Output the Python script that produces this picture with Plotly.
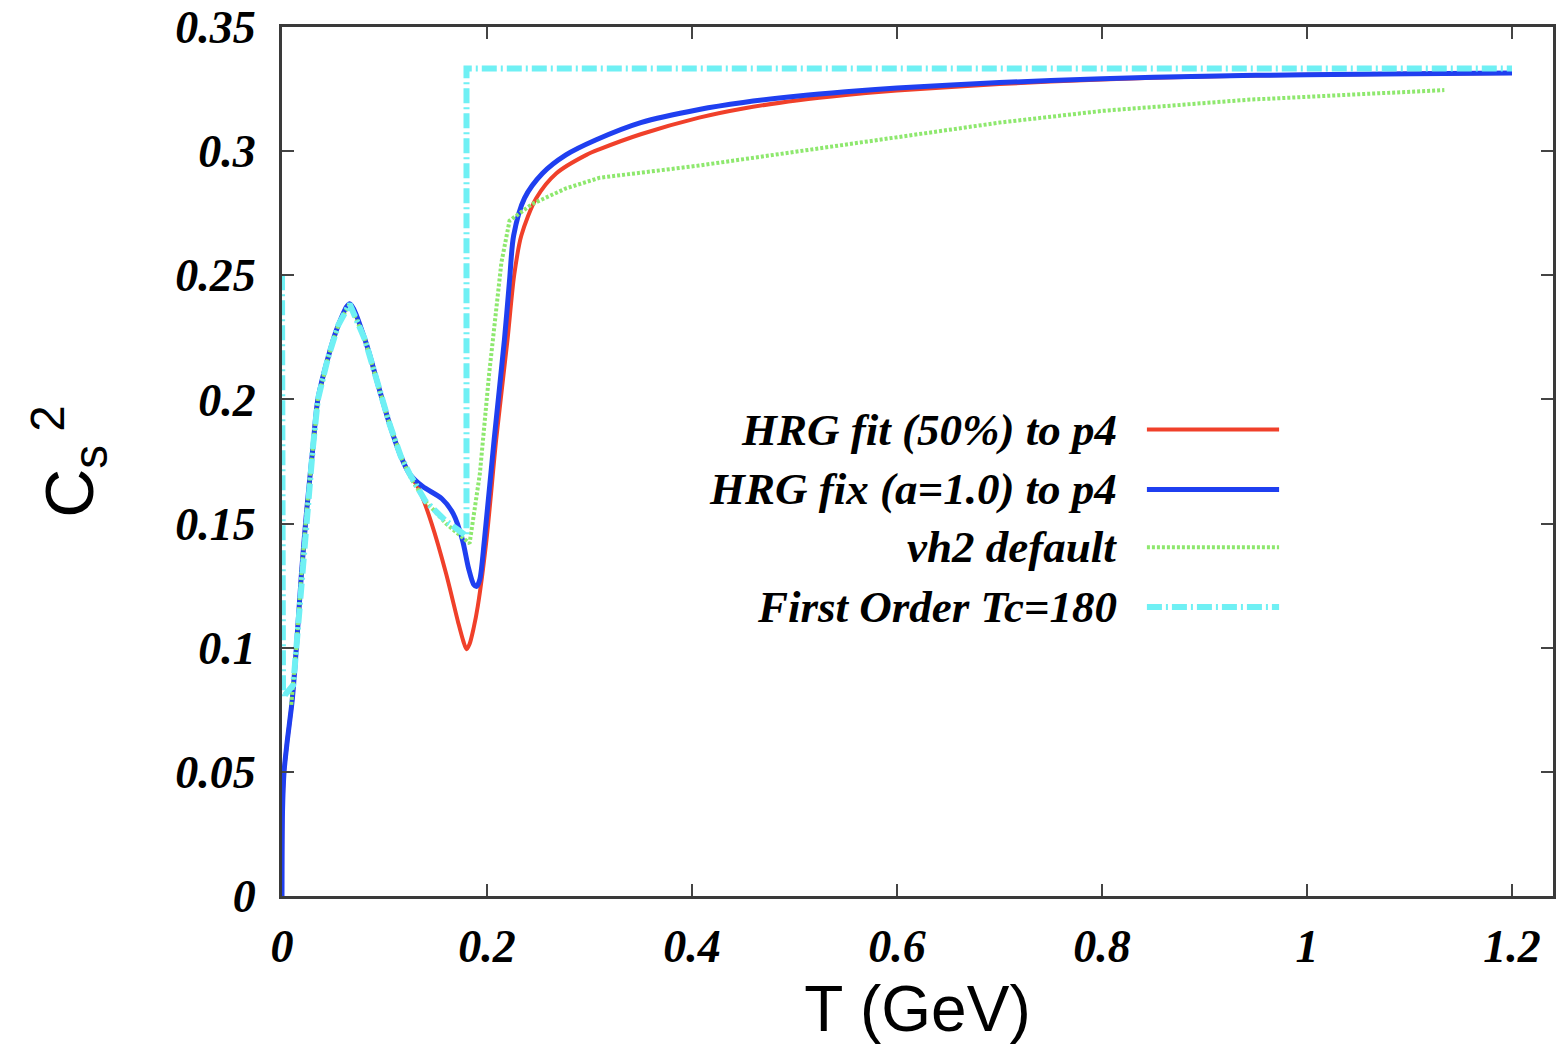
import plotly.graph_objects as go

# ---------------- data ----------------
T_red = [0, 0.0005, 0.002, 0.005, 0.01, 0.014, 0.019, 0.024, 0.03, 0.035, 0.045, 0.055, 0.066,
         0.081, 0.095, 0.105, 0.116, 0.1245, 0.134, 0.146, 0.16, 0.172, 0.177, 0.180, 0.183,
         0.187, 0.191, 0.1995, 0.209, 0.22, 0.2265, 0.2335, 0.248, 0.2675, 0.297, 0.31, 0.35,
         0.407, 0.45, 0.504, 0.55, 0.6, 0.7, 0.8, 0.9, 1.0, 1.1, 1.2]
cs2_red = [0, 0.034, 0.05, 0.062, 0.079, 0.10, 0.13, 0.155, 0.18, 0.2, 0.217, 0.23, 0.2385,
           0.224, 0.204, 0.19, 0.177, 0.170, 0.1636, 0.150, 0.130, 0.110, 0.1025, 0.0994, 0.1015,
           0.108, 0.1167, 0.1435, 0.184, 0.224, 0.25, 0.266, 0.281, 0.291, 0.2985, 0.3008,
           0.3068, 0.3135, 0.3172, 0.3205, 0.3226, 0.3244, 0.327, 0.3289, 0.3301, 0.3308,
           0.3312, 0.3315]

T_blue = [0, 0.0005, 0.002, 0.005, 0.01, 0.014, 0.019, 0.024, 0.03, 0.035, 0.045, 0.055, 0.066,
          0.081, 0.095, 0.105, 0.116, 0.1245, 0.137, 0.156, 0.167, 0.176, 0.182, 0.187, 0.19,
          0.193, 0.1975, 0.207, 0.217, 0.222, 0.226, 0.2365, 0.254, 0.277, 0.306, 0.35, 0.407,
          0.45, 0.504, 0.55, 0.6, 0.7, 0.8, 0.9, 1.0, 1.1, 1.2]
cs2_blue = [0, 0.034, 0.05, 0.062, 0.079, 0.10, 0.13, 0.155, 0.18, 0.2, 0.217, 0.23, 0.2385,
            0.224, 0.204, 0.19, 0.177, 0.170, 0.165, 0.160, 0.154, 0.1435, 0.132, 0.1255,
            0.1247, 0.1275, 0.1435, 0.184, 0.224, 0.248, 0.266, 0.281, 0.291, 0.2985, 0.3045,
            0.3115, 0.3168, 0.3196, 0.3222, 0.3239, 0.3254, 0.3276, 0.3292, 0.3302, 0.3308,
            0.3312, 0.3315]

T_green = [0.009, 0.011, 0.014, 0.019, 0.024, 0.03, 0.035, 0.045, 0.055, 0.066, 0.081, 0.095,
           0.105, 0.116, 0.126, 0.14, 0.16, 0.183, 0.193, 0.202, 0.214, 0.222, 0.244, 0.277,
           0.31, 0.407, 0.504, 0.6, 0.7, 0.8, 0.942, 1.134]
cs2_green = [0.077, 0.085, 0.10, 0.13, 0.155, 0.18, 0.2, 0.217, 0.23, 0.2385, 0.224, 0.204,
             0.19, 0.177, 0.168, 0.159, 0.150, 0.142, 0.170, 0.21, 0.255, 0.272, 0.2787, 0.285,
             0.2893, 0.2942, 0.300, 0.3058, 0.3115, 0.3162, 0.3207, 0.3246]

T_cyan = [0, 0.001, 0.011, 0.014, 0.019, 0.024, 0.03, 0.035, 0.045, 0.055, 0.066, 0.081, 0.095,
          0.105, 0.116, 0.1245, 0.14, 0.16, 0.18, 0.18, 1.2]
cs2_cyan = [0.25, 0.08, 0.085, 0.10, 0.13, 0.155, 0.18, 0.2, 0.217, 0.23, 0.2385, 0.224, 0.204,
            0.19, 0.177, 0.170, 0.159, 0.151, 0.145, 0.3333, 0.3333]

series_names = ["HRG fit (50%) to p4", "HRG fix (a=1.0) to p4", "vh2 default",
                "First Order Tc=180"]
series_colors = ["#f0402a", "#1f3ff0", "#8ee86e", "#6ff0f4"]
series_widths = [4, 5, 4, 6]
series_dash = ["solid", "solid", "3px,2px", "15px,4px,2px,4px"]

x_ticks = [0, 0.2, 0.4, 0.6, 0.8, 1.0, 1.2]
x_ticktext = ["0", "0.2", "0.4", "0.6", "0.8", "1", "1.2"]
y_ticks = [0, 0.05, 0.1, 0.15, 0.2, 0.25, 0.3, 0.35]
y_ticktext = ["0", "0.05", "0.1", "0.15", "0.2", "0.25", "0.3", "0.35"]

# ---------------- figure ----------------
serif = "Liberation Serif"
sans = "Liberation Sans"

fig = go.Figure()
data = [(T_red, cs2_red, "spline"), (T_blue, cs2_blue, "spline"),
        (T_green, cs2_green, "linear"), (T_cyan, cs2_cyan, "linear")]
for (tx, vy, shp), name, col, w, d in zip(data, series_names, series_colors,
                                          series_widths, series_dash):
    line = dict(color=col, width=w, dash=d, shape=shp)
    if shp == "spline":
        line["smoothing"] = 0.8
    fig.add_trace(go.Scatter(x=tx, y=vy, mode="lines", name=name, showlegend=False, line=line))

# manual legend: right-aligned text with the line sample on its right
leg_y = [0.5367, 0.4679, 0.4014, 0.3326]
for name, col, w, d, yy in zip(series_names, series_colors, series_widths, series_dash, leg_y):
    fig.add_annotation(x=0.6585, y=yy, xref="paper", yref="paper", text=name,
                       showarrow=False, xanchor="right", yanchor="middle",
                       font=dict(family=serif, size=45, color="black",
                                 weight="bold", style="italic"))
    fig.add_shape(type="line", xref="paper", yref="paper", x0=0.6805, x1=0.7845,
                  y0=yy, y1=yy, line=dict(color=col, width=w, dash=d))

tickfont = dict(family=serif, size=46, color="black", weight="bold", style="italic")
fig.update_xaxes(range=[0, 1.24], tickvals=x_ticks, ticktext=x_ticktext,
                 ticks="inside", ticklen=12, tickwidth=2, tickcolor="#444",
                 showline=True, linecolor="#3a3a3a", linewidth=3, mirror="allticks",
                 showgrid=False, zeroline=False, tickfont=tickfont, ticklabelstandoff=8,
                 title=dict(text="T (GeV)", font=dict(family=sans, size=64, color="black"),
                            standoff=26))
fig.update_yaxes(range=[0, 0.35], tickvals=y_ticks, ticktext=y_ticktext,
                 ticks="inside", ticklen=12, tickwidth=2, tickcolor="#444",
                 showline=True, linecolor="#3a3a3a", linewidth=3, mirror="allticks",
                 showgrid=False, zeroline=False, tickfont=tickfont, ticklabelstandoff=14,
                 title=dict(text="C<sub>s</sub><sup> 2</sup>",
                            font=dict(family=sans, size=68, color="black"), standoff=60))
fig.update_layout(width=1558, height=1045, margin=dict(l=282, r=2, t=26, b=147),
                  plot_bgcolor="white", paper_bgcolor="white")

fig.write_html("out.html")
